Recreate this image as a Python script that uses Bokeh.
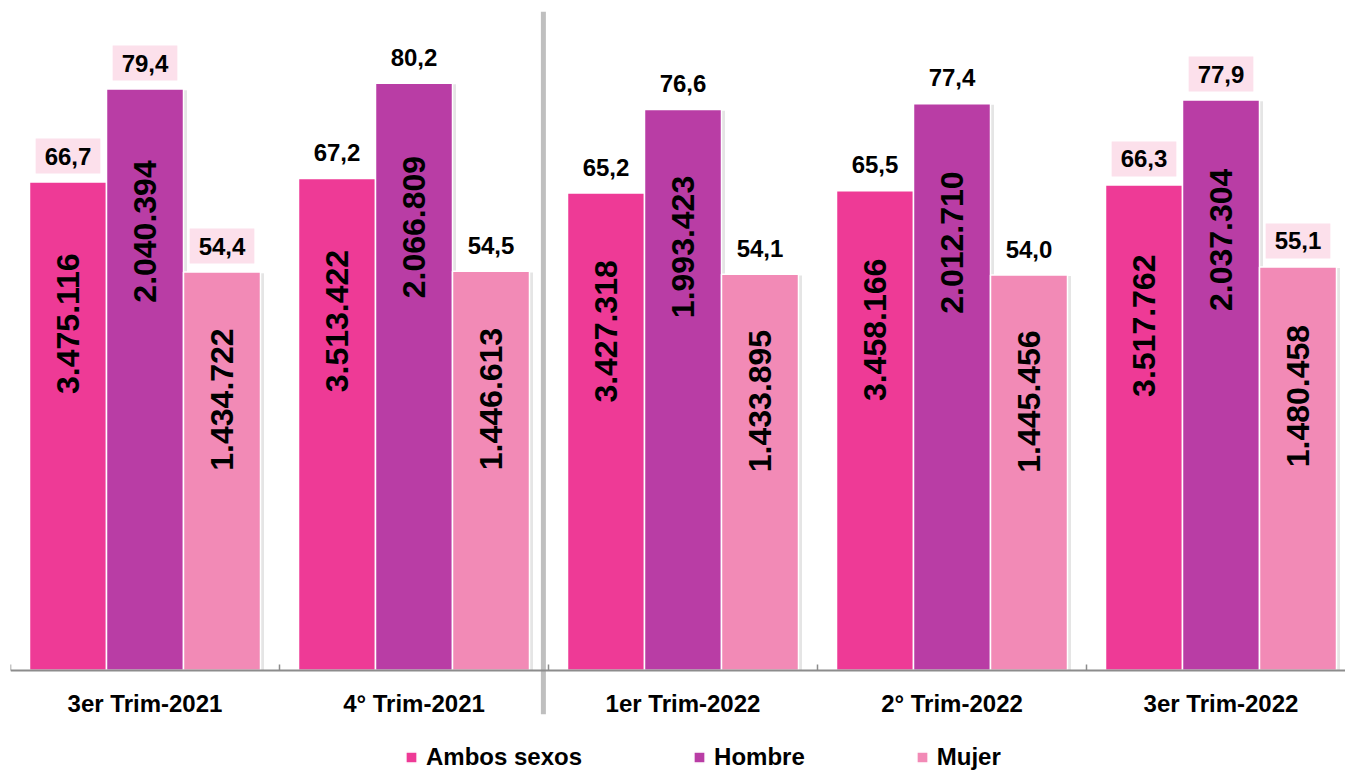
import math
from bokeh.plotting import figure
from bokeh.models import ColumnDataSource, FixedTicker, Legend, LegendItem
from bokeh.core.properties import value
from bokeh.embed import file_html
from bokeh.resources import INLINE

# ---- data ----
categories = ["3er Trim-2021", "4° Trim-2021", "1er Trim-2022", "2° Trim-2022", "3er Trim-2022"]
series = ["Ambos sexos", "Hombre", "Mujer"]
tasa_ambos = [66.7, 67.2, 65.2, 65.5, 66.3]
tasa_hombre = [79.4, 80.2, 76.6, 77.4, 77.9]
tasa_mujer = [54.4, 54.5, 54.1, 54.0, 55.1]
ocup_ambos = [3475116, 3513422, 3427318, 3458166, 3517762]
ocup_hombre = [2040394, 2066809, 1993423, 2012710, 2037304]
ocup_mujer = [1434722, 1446613, 1433895, 1445456, 1480458]
resaltado = [True, False, False, False, True]

colors = ["#ee3a96", "#b93da5", "#f28ab6"]
box_color = "#fce0eb"
FONT = "Liberation Sans"

PX_X = 269.0  # pixels per category
PX_Y = 7.32   # pixels per unit
offs = [-77 / PX_X, 0.0, 77 / PX_X]
bw = 77 / PX_X
inner_frac = [0.71, 0.755, 0.68]

W, H = 1345, 771
BL, BT = 10, 11
p = figure(width=W, height=H, output_backend="svg", toolbar_location=None,
           x_range=(0, (W - BL) / PX_X), y_range=(90 - (H - BT) / PX_Y, 90),
           min_border_left=BL, min_border_right=0, min_border_top=BT, min_border_bottom=0)
p.outline_line_color = None
p.xgrid.visible = False
p.ygrid.visible = False
p.yaxis.visible = False
p.background_fill_color = "white"
p.border_fill_color = "white"

def fmt_int(v):
    return f"{v:,}".replace(",", ".")

def fmt_dec(v):
    return f"{v:.1f}".replace(".", ",")

tasas = [tasa_ambos, tasa_hombre, tasa_mujer]
ocups = [ocup_ambos, ocup_hombre, ocup_mujer]

renderers = []
for k in range(3):
    xs = [i + 0.5 + offs[k] for i in range(len(categories))]
    src = ColumnDataSource(dict(
        x=xs,
        xs=[x + 2 / PX_X for x in xs],
        top=tasas[k],
        top_s=[t - 0.15 for t in tasas[k]],
        lbl=[fmt_dec(t) for t in tasas[k]],
        inner=[fmt_int(o) for o in ocups[k]],
        inner_y=[t * inner_frac[k] for t in tasas[k]],
        bg_alpha=[1.0 if r else 0.0 for r in resaltado],
    ))
    # soft shadow
    p.vbar(x="xs", top="top_s", bottom=0, width=bw + 3 / PX_X, source=src,
           fill_color="#000000", fill_alpha=0.10, line_color=None)
    r = p.vbar(x="x", top="top", bottom=0, width=bw, source=src,
               fill_color=colors[k], line_color="white", line_width=1.5)
    renderers.append(r)
    p.text(x="x", y="top", text="lbl", source=src, y_offset=-26,
           text_align="center", text_baseline="middle",
           text_font=value(FONT), text_font_style="bold", text_font_size="24px",
           text_color="black", background_fill_color=box_color,
           background_fill_alpha="bg_alpha", padding=(9, 9))
    p.text(x="x", y="inner_y", text="inner", source=src, angle=math.pi / 2,
           text_align="center", text_baseline="middle",
           text_font=value(FONT), text_font_style="bold", text_font_size="32px",
           text_color="black")

# separator between years
p.segment(x0=[1.981], y0=[-6.0], x1=[1.981], y1=[90], line_color="#bfbfbf", line_width=5)

# x axis at y = 0
ax = p.xaxis[0]
ax.fixed_location = 0
centers = [i + 0.5 for i in range(len(categories))]
ax.ticker = FixedTicker(ticks=centers, minor_ticks=list(range(len(categories) + 1)))
ax.major_label_overrides = {c: lab for c, lab in zip(centers, categories)}
ax.major_tick_line_color = None
ax.minor_tick_in = 6
ax.minor_tick_out = 0
ax.minor_tick_line_color = "#8c8c8c"
ax.minor_tick_line_width = 1.5
ax.axis_line_color = "#8c8c8c"
ax.axis_line_width = 2
ax.major_label_standoff = 14
ax.major_label_text_font = FONT
ax.major_label_text_font_style = "bold"
ax.major_label_text_font_size = "24px"
ax.major_label_text_color = "black"

# legend
legend = Legend(items=[LegendItem(label=series[k], renderers=[renderers[k]]) for k in range(3)],
                orientation="horizontal", location=(394, 0),
                glyph_width=14, glyph_height=14, label_standoff=8, spacing=110,
                padding=0, margin=0, border_line_color=None, background_fill_alpha=0,
                label_text_font=FONT, label_text_font_style="bold",
                label_text_font_size="24px", label_text_color="black")
p.add_layout(legend, "center")

open("out.html", "w").write(file_html(p, INLINE))
